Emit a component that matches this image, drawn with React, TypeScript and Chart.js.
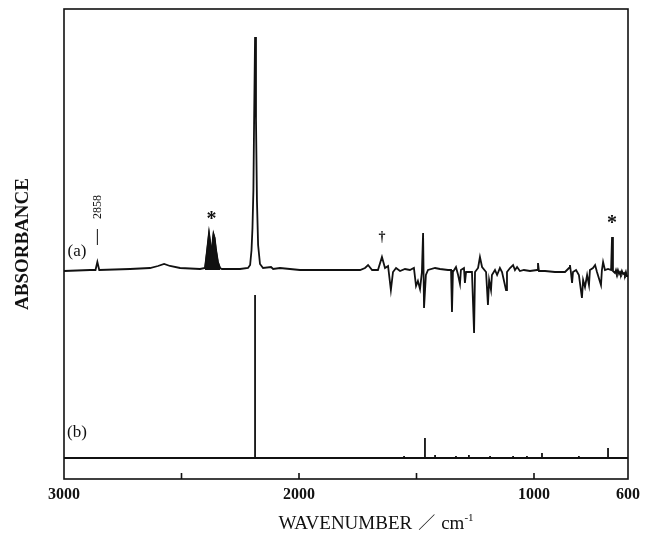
import { useEffect, useRef } from 'react';
import { Chart, registerables } from 'chart.js';

Chart.register(...registerables);

// ---- axis ----
const X_MIN = 600;
const X_MAX = 3000;
const X_TICKS = [3000, 2500, 2000, 1500, 1000, 600];
const X_LABELED = [3000, 2000, 1000, 600];
const Y_MAX = 4.7;

// vertical offsets of the two traces (absorbance units)
const OFFSET_A = 2.09;
const OFFSET_B = 0.21;

// ---- trace (a): observed spectrum ----
const A_WN = [
  3000, 2889, 2866, 2858, 2850, 2719, 2634, 2600, 2574, 2549, 2506, 2421,
  2400, 2391, 2383, 2378, 2372, 2367, 2364, 2359, 2353, 2345, 2336, 2328,
  2251, 2217, 2208, 2202, 2198, 2194, 2191, 2187, 2183, 2179, 2174, 2166, 2153,
  2119, 2110, 2081, 1996, 1868, 1740, 1719, 1706, 1689, 1664, 1647, 1634,
  1621, 1609, 1600, 1587, 1570, 1549, 1528, 1511, 1502, 1494, 1485, 1477,
  1472, 1468, 1460, 1451, 1421, 1400, 1366, 1353, 1349, 1345, 1332, 1323,
  1315, 1311, 1298, 1294, 1289, 1277, 1264, 1255, 1251, 1238, 1230, 1221,
  1204, 1196, 1191, 1183, 1179, 1166, 1157, 1145, 1136, 1119, 1115, 1102,
  1089, 1081, 1072, 1060, 1043, 1017, 987, 983, 979, 953, 911, 868,
  851, 847, 843, 838, 834, 821, 809, 796, 791, 783, 774, 766,
  762, 749, 740, 732, 715, 711, 706, 698, 685, 672, 668, 664,
  655, 651, 647, 643, 638, 634, 630, 626, 621, 617, 613, 609,
  605, 600,
];
const A_ABS = [
  -0.01, 0.0, 0.0, 0.08, 0.0, 0.01, 0.02, 0.04, 0.06, 0.04, 0.02, 0.01,
  0.02, 0.2, 0.37, 0.28, 0.13, 0.3, 0.36, 0.32, 0.2, 0.08, 0.02, 0.01,
  0.01, 0.02, 0.05, 0.2, 0.42, 0.8, 1.5, 2.33, 1.5, 0.7, 0.25, 0.06, 0.02,
  0.03, 0.01, 0.02, 0.0, 0.0, 0.0, 0.02, 0.05, 0.0, 0.0, 0.13, 0.02,
  0.04, -0.2, -0.02, 0.02, -0.01, 0.01, 0.0, 0.02, -0.16, -0.11, -0.19, -0.02,
  0.37, -0.38, -0.05, 0.0, 0.02, 0.01, 0.0, 0.0, -0.42, -0.02, 0.03, -0.05,
  -0.14, 0.0, 0.02, -0.13, -0.02, -0.02, -0.02, -0.63, -0.02, 0.02, 0.13, 0.03,
  -0.02, -0.35, -0.1, -0.2, -0.05, 0.0, -0.05, 0.02, -0.02, -0.2, -0.02, 0.02,
  0.05, 0.0, 0.03, -0.01, 0.0, -0.01, 0.0, 0.07, -0.01, -0.01, -0.02, -0.02,
  0.02, 0.05, -0.02, -0.13, -0.02, 0.0, -0.05, -0.28, -0.1, -0.17, -0.05, -0.15,
  0.0, 0.02, 0.05, -0.02, -0.15, 0.0, 0.08, 0.0, 0.01, 0.0, 0.33, -0.01,
  -0.03, 0.0, -0.03, 0.0, -0.04, -0.02, -0.04, -0.01, -0.04, -0.03, -0.05, -0.02,
  -0.06, -0.06,
];

// ---- CO2 band in trace (a), drawn filled ----
const CO2_WN = [2400, 2391, 2383, 2378, 2372, 2367, 2364, 2359, 2353, 2345, 2336];
const CO2_ABS = [0.02, 0.2, 0.37, 0.28, 0.13, 0.3, 0.36, 0.32, 0.2, 0.08, 0.02];

// ---- trace (b): calculated stick spectrum ----
const B_WN = [2187, 1553, 1464, 1421, 1332, 1277, 1187, 1089, 1030, 966, 809, 685];
const B_ABS = [1.63, 0.02, 0.2, 0.03, 0.02, 0.03, 0.02, 0.02, 0.02, 0.05, 0.02, 0.1];

// ---- annotations (anchored to peaks) ----
const PEAK_2858 = 2858;
const PEAK_2858_ABS = 0.08;
const CO2_STAR_WN = 2372;
const CO2_STAR_ABS = 0.37;
const STAR2_WN = 668;
const STAR2_ABS = 0.33;
const DAGGER_WN = 1647;
const DAGGER_ABS = 0.13;

const SERIF = '"Liberation Serif", "DejaVu Serif", serif';

function buildA() {
  return A_WN.map((w, i) => ({ x: w, y: A_ABS[i] + OFFSET_A }));
}
function buildCO2() {
  return CO2_WN.map((w, i) => ({ x: w, y: CO2_ABS[i] + OFFSET_A }));
}
function buildB() {
  const pts: { x: number; y: number }[] = [{ x: X_MAX, y: OFFSET_B }];
  B_WN.forEach((w, i) => {
    pts.push({ x: w, y: OFFSET_B });
    pts.push({ x: w, y: OFFSET_B + B_ABS[i] });
    pts.push({ x: w, y: OFFSET_B });
  });
  pts.push({ x: X_MIN, y: OFFSET_B });
  return pts;
}

const decorPlugin = {
  id: 'decor',
  afterDraw(chart: any) {
    const { ctx, chartArea, scales } = chart;
    const { left, right, top, bottom } = chartArea;
    const xs = scales.x;
    const ys = scales.y;
    const px = (v: number) => xs.getPixelForValue(v);
    const py = (v: number) => ys.getPixelForValue(v);
    ctx.save();
    ctx.strokeStyle = '#111';
    ctx.fillStyle = '#111';
    ctx.lineWidth = 1.6;
    ctx.strokeRect(left, top, right - left, bottom - top);
    // inward tick marks
    X_TICKS.forEach((v) => {
      if (v === X_MIN || v === X_MAX) return;
      const p = px(v);
      ctx.beginPath();
      ctx.moveTo(p, bottom);
      ctx.lineTo(p, bottom - 6);
      ctx.stroke();
    });

    // trace labels
    ctx.font = `17px ${SERIF}`;
    ctx.textAlign = 'center';
    ctx.textBaseline = 'middle';
    ctx.fillText('(a)', left + 13, py(OFFSET_A) - 18);
    ctx.fillText('(b)', left + 13, py(OFFSET_B) - 25);

    // asterisks and dagger
    ctx.font = `bold 20px ${SERIF}`;
    ctx.textBaseline = 'middle';
    ctx.fillText('*', px(CO2_STAR_WN), py(CO2_STAR_ABS + OFFSET_A) - 13);
    ctx.fillText('*', px(STAR2_WN), py(STAR2_ABS + OFFSET_A) - 13);
    ctx.font = `bold 14px ${SERIF}`;
    ctx.fillText('†', px(DAGGER_WN), py(DAGGER_ABS + OFFSET_A) - 20);

    // 2858 marker
    const x2858 = px(PEAK_2858);
    const y2858 = py(PEAK_2858_ABS + OFFSET_A);
    ctx.lineWidth = 1;
    ctx.beginPath();
    ctx.moveTo(x2858, y2858 - 17);
    ctx.lineTo(x2858, y2858 - 33);
    ctx.stroke();
    ctx.save();
    ctx.translate(x2858, y2858 - 55);
    ctx.rotate(-Math.PI / 2);
    ctx.font = `12px ${SERIF}`;
    ctx.fillText('2858', 0, 0);
    ctx.restore();

    // x axis title
    const bigFont = `19px ${SERIF}`;
    const supFont = `11px ${SERIF}`;
    const slashFont = `17px "Noto Sans CJK JP", sans-serif`;
    ctx.font = bigFont;
    const t1 = 'WAVENUMBER';
    const w1 = ctx.measureText(t1).width;
    const wcm = ctx.measureText('cm').width;
    ctx.font = slashFont;
    const ws = ctx.measureText('／').width;
    ctx.font = supFont;
    const wsup = ctx.measureText('-1').width;
    const gap = 6;
    const total = w1 + gap + ws + gap + wcm + wsup;
    let cx = (left + right) / 2 + 30 - total / 2;
    const base = bottom + 50;
    ctx.textAlign = 'left';
    ctx.textBaseline = 'alphabetic';
    ctx.font = bigFont;
    ctx.fillText(t1, cx, base);
    cx += w1 + gap;
    ctx.font = slashFont;
    ctx.fillText('／', cx, base);
    cx += ws + gap;
    ctx.font = bigFont;
    ctx.fillText('cm', cx, base);
    cx += wcm;
    ctx.font = supFont;
    ctx.fillText('-1', cx, base - 8);
    ctx.restore();
  },
};

export default function App() {
  const ref = useRef<HTMLCanvasElement | null>(null);
  useEffect(() => {
    document.body.style.margin = '0';
    const canvas = ref.current;
    if (!canvas) return;
    const chart = new Chart(canvas, {
      type: 'line',
      data: {
        datasets: [
          {
            label: 'CO2',
            data: buildCO2(),
            borderColor: '#111',
            backgroundColor: '#111',
            borderWidth: 1.4,
            pointRadius: 0,
            fill: { value: OFFSET_A },
            tension: 0,
          },
          {
            label: '(a)',
            data: buildA(),
            borderColor: '#111',
            borderWidth: 1.8,
            pointRadius: 0,
            fill: false,
            tension: 0,
          },
          {
            label: '(b)',
            data: buildB(),
            borderColor: '#111',
            borderWidth: 1.8,
            pointRadius: 0,
            fill: false,
            tension: 0,
          },
        ],
      },
      options: {
        animation: false,
        responsive: false,
        devicePixelRatio: 1,
        layout: { padding: { top: 9, right: 18, left: 0, bottom: 0 } },
        plugins: { legend: { display: false }, tooltip: { enabled: false } },
        elements: { line: { borderJoinStyle: 'miter' } },
        scales: {
          x: {
            type: 'linear',
            reverse: true,
            min: X_MIN,
            max: X_MAX,
            afterBuildTicks: (s: any) => {
              s.ticks = X_TICKS.map((v) => ({ value: v }));
            },
            afterFit: (s: any) => {
              s.height = 58;
            },
            ticks: {
              autoSkip: false,
              maxRotation: 0,
              minRotation: 0,
              padding: 6,
              color: '#111',
              font: { family: SERIF, size: 16, weight: 'bold' },
              callback: (v: any) => (X_LABELED.includes(Number(v)) ? String(v) : ''),
            },
            grid: { display: false, drawTicks: false },
            border: { display: false },
          },
          y: {
            type: 'linear',
            min: 0,
            max: Y_MAX,
            afterFit: (s: any) => {
              s.width = 64;
            },
            ticks: { display: false },
            grid: { display: false, drawTicks: false },
            border: { display: false },
            title: {
              display: true,
              text: 'ABSORBANCE',
              color: '#111',
              font: { family: SERIF, size: 19, weight: 'bold' },
              padding: { top: 12, bottom: 0 },
            },
          },
        },
      },
      plugins: [decorPlugin],
    });
    return () => chart.destroy();
  }, []);
  return <canvas ref={ref} width={646} height={537} style={{ display: 'block' }} />;
}
